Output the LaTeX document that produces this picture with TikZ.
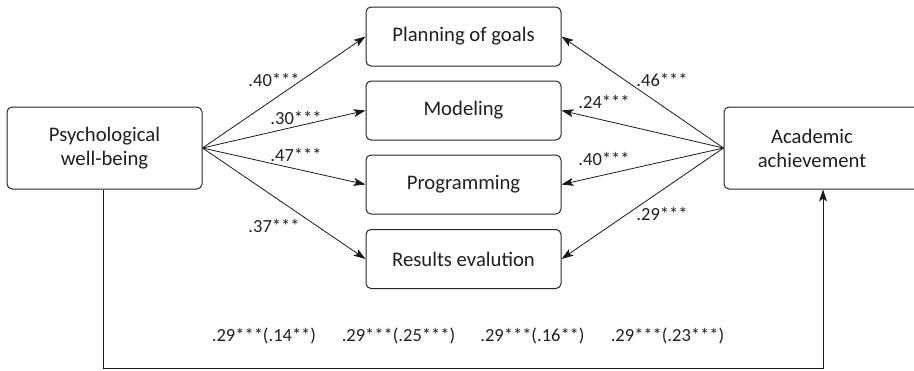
\documentclass[tikz,border=0pt]{standalone}
\usepackage{fontspec}
\setmainfont{Carlito}
\usetikzlibrary{arrows.meta}
\begin{document}
\begin{tikzpicture}[x=1pt,y=-1pt,
  box/.style={draw=black!85, line width=1pt, rounded corners=5pt, fill=white, align=center,
    font=\fontsize{20.7}{24}\selectfont, text=black!88, inner sep=0pt},
  mid/.style={box, minimum width=195pt, minimum height=59pt},
  big/.style={box, minimum width=195pt, minimum height=82pt},
  arr/.style={draw=black!90, line width=0.8pt, -{Stealth[length=12pt,width=8pt,inset=3pt]}},
  lab/.style={font=\fontsize{18.5}{22}\selectfont, text=black!88, inner sep=0pt}]
\useasboundingbox (0,0) rectangle (914,370);
\begin{scope}
\clip (0,0) rectangle (914,370);
\node[big] (L) at (104.5,148) {Psychological\\well-being};
\node[big, minimum width=196pt] (R) at (822,148) {\hspace*{-20pt}Academic\\\hspace*{-20pt}achievement};
\node[mid] (M1) at (463.5,36.5) {Planning of goals};
\node[mid] (M2) at (463.5,110.5) {Modeling};
\node[mid] (M3) at (463.5,184.5) {Programming};
\node[mid] (M4) at (463.5,259) {Results evalution};

\draw[arr] (L.east) -- (M1.west);
\draw[arr] (L.east) -- (M2.west);
\draw[arr] (L.east) -- (M3.west);
\draw[arr] (L.east) -- (M4.west);
\draw[arr] (R.west) -- (M1.east);
\draw[arr] (R.west) -- (M2.east);
\draw[arr] (R.west) -- (M3.east);
\draw[arr] (R.west) -- (M4.east);

\coordinate (BL) at (103,368);
\coordinate (BR) at (823,368);
\draw[arr, line width=1pt] (L.south -| BL) -- (BL) -- (BR) -- (R.south -| BR);

\node[lab] (l1) at (274,80) {.40***};
\node[lab] (l2) at (296,118) {.30***};
\node[lab] (l3) at (296,155) {.47***};
\node[lab] (l4) at (274,226) {.37***};
\node[lab] (r1) at (662,80) {.46***};
\node[lab] (r2) at (604,102) {.24***};
\node[lab] (r3) at (604,159) {.40***};
\node[lab] (r4) at (662,214) {.29***};

\node[lab] (b1) at (264,336) {.29***(.14**)};
\node[lab] (b2) at (398.5,336) {.29***(.25***)};
\node[lab] (b3) at (532.5,336) {.29***(.16**)};
\node[lab] (b4) at (667.5,336) {.29***(.23***)};
\end{scope}
\end{tikzpicture}
\end{document}
